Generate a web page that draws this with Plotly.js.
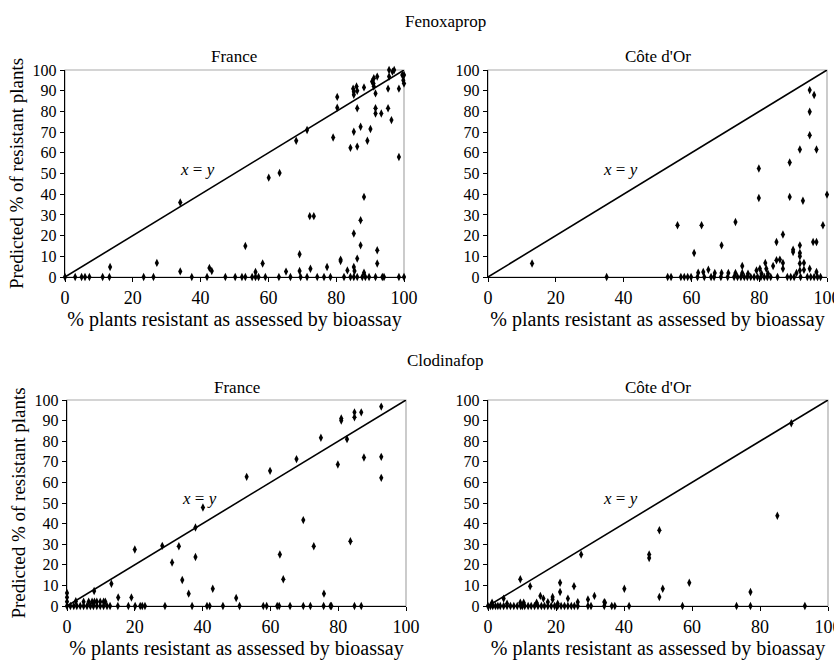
<!DOCTYPE html>
<html>
<head>
<meta charset="utf-8">
<script src="https://cdn.plot.ly/plotly-3.0.1.min.js"></script>
<style>html,body{margin:0;padding:0;background:#fff;}#chart{width:834px;height:663px;}</style>
</head>
<body>
<div id="chart"></div>
<script>
// ---- Data ----
const diagLine = [0, 100];

// Fenoxaprop, France
const fenFrX = [0,3,4.9,5.9,7.2,11.1,13.1,23.2,26.1,37.4,41.9,47.3,50.2,52.2,53.2,55.2,56.2,57.1,59.1,63.1,66.5,69.5,71.4,74.4,76.4,78.3,82.3,84.2,85.2,86.2,87.7,88.6,89.7,91.6,93.6,94.1,98.5,100,
  13.3,27.1,34,34,42.6,43.3,53.2,56.2,58.3,60.1,63.3,65.2,68.2,69.2,69.2,71.4,72.2,73.4,72.4,77.3,79.1,80.3,80.3,81.3,81.3,83.3,84.2,85.2,85.2,85.2,85.4,85,85.2,85.2,86,86.2,86.2,86.2,86.2,87.2,87.2,87.2,88.2,88.2,88.2,89.2,90.1,90.6,91.1,91,91.6,91.6,91.6,92.1,92.1,92.1,91.1,93.3,95.6,96.6,95.6,95.3,95.3,96.3,98.5,98.5,99.5,99.8,100,97.1,100];
const fenFrY = [0,0,0,0,0,0,0,0,0,0,0,0,0,0,0,0,0,0,0,0,0,0,0,0,0,0,0,0,0,0,0,0,0,0,0,0,0,0,
  4.8,6.8,36,2.7,4.4,2.9,15,2.4,6.5,48,50.3,2.6,65.8,11,2.9,71,29.4,29.4,4,4.8,67.4,87,81.8,8.4,7.7,3.2,62.4,70.2,21,4.8,2.9,91,89.5,88,92,90,81.5,63,8.9,72.6,27.4,15.3,38.7,91.6,2.1,65.8,71.5,94.4,96,93.5,88.7,81.5,79,6.5,12.9,96.8,92,79,100,99.2,96.8,91,81.5,75.8,91,58,97.6,95,93.5,100,97.6];

// Fenoxaprop, Côte d'Or
const fenCoX = [35,53,54,56.9,57.9,58.9,59.9,61.8,63.8,65.8,66.7,68.7,70.7,72.6,73.6,74.6,75.6,76.5,77.5,78.5,79.5,80.5,81.5,82.4,83.4,85.4,88.3,89.3,90.3,92.2,94.2,95.2,96.2,97.2,98.1,
  13,55.9,60.8,62,63,63.5,65,66.9,68.9,68.9,70.9,73,73,75,75,76.7,79.2,79.9,79.9,80.2,80.7,81.8,82.1,82.6,84.1,85.1,85.1,86.1,87,87,87,89,89,90,90,91,92,92,92,92,92,92,92.9,93.2,93.2,94.9,94.9,94.9,94.9,96.2,95.9,96.9,96.9,96.9,98.8,100];
const fenCoY = [0,0,0,0,0,0,0,0,0,0,0,0,0,0,0,0,0,0,0,0,0,0,0,0,0,0,0,0,0,0,0,0,0,0,0,
  6.5,25,11.6,2.1,25,2.4,3.5,1.9,15.3,1.9,1.9,26.6,1.9,5.3,1.9,1.6,3.2,52.4,38.2,4,1.6,6.8,4,1.6,5.3,16.9,8.1,8.4,6.8,4,20.5,55.3,38.7,13.2,12.1,1.9,61.6,15.3,11.6,10,6.5,3.2,36.8,6.8,3.5,90.3,79.8,68.5,4,87.9,16.9,16.9,61.6,2.4,25,39.8];

// Clodinafop, France
const cloFrX = [0,1,2,2.9,3.9,4.9,5.9,6.9,7.8,8.8,9.8,10.8,11.8,12.7,15,18.1,20.1,21.6,22.2,23,28.9,36.9,41.3,42.1,46,50.9,57.9,58.9,62,62.6,65.8,69.7,71.8,75.7,77.7,78,84.8,86.8,
  0,0,0,2.6,4.9,6.4,7.4,8.1,8.8,9.8,10.8,11.3,8,13.1,15.1,19,20,28.1,31,33,34,35.9,37.9,37.9,40.1,43,49.9,53,59.9,62.8,63.8,67.7,69.7,72.8,74.9,75.8,79.9,80.9,80.9,82.6,83.6,84.8,84.8,86.8,87.6,92.7,92.7,92.7];
const cloFrY = [0,0,0,0,0,0,0,0,0,0,0,0,0,0,0,0,0,0,0,0,0,0,0,0,0,0,0,0,0,0,0,0,0,0,0,0,0,0,
  6.3,4.2,2.1,2.3,2.1,2.1,2.1,2.1,2.1,2.1,2.1,2.1,7.3,10.8,4.1,4.1,27.4,29.2,21.1,29,12.6,6,38.1,23.8,47.8,8.4,3.9,62.7,65.6,25,13,71.3,41.7,29,81.7,6,68.7,91,90,81,31.4,94,91.6,94,72.1,96.8,72.4,62.2];

// Clodinafop, Côte d'Or
const cloCoX = [0,0.7,1.4,2.2,2.9,3.6,4.6,5.6,6.6,7.6,8.6,9.6,10.1,10.8,11.8,12.7,13.7,14.7,15.7,16.6,17.6,18.6,19.6,20.5,21.5,22.5,23.5,24.5,25.4,26.4,29.4,30.3,34.2,36.4,37.3,41.5,57.2,73.1,77.2,93.2,
  1.2,5.6,9.5,10.5,14.3,17.6,20.5,26.4,34.2,
  89.2,85.1,50.4,47.4,47.4,27.4,9.5,12.4,21.2,21.2,25.3,23.5,29.4,31.3,15.4,16.3,19,19,40.1,50.4,51.4,59.2,77.2,4.6,34.4];
const cloCoY = [0,0,0,0,0,0,0,0,0,0,0,0,0,0,0,0,0,0,0,0,0,0,0,0,0,0,0,0,0,0,0,0,0,0,0,0,0,0,0,0,
  1.6,1.1,1.6,1.6,1.6,1.9,1.1,1.9,1.9,
  88.7,43.8,36.8,25,23.3,25,13,9.6,11.3,6.8,9.6,3.6,3.2,4.9,4.9,3.6,4.4,3.2,8.4,4.4,8.4,11.3,6.8,3.6,1.6];

// ---- Chart ----
const FONT = '"Liberation Serif", "Times New Roman", Times, serif';
const panels = [
  {x: fenFrX, y: fenFrY, xd: [65/834, 404/834], yd: [386/663, 593/663]},
  {x: fenCoX, y: fenCoY, xd: [488/834, 827/834], yd: [386/663, 593/663]},
  {x: cloFrX, y: cloFrY, xd: [67/834, 406/834], yd: [57/663, 263/663]},
  {x: cloCoX, y: cloCoY, xd: [488/834, 828/834], yd: [57/663, 263/663]}
];

const traces = [];
const layout = {
  width: 834, height: 663,
  margin: {l: 0, r: 0, t: 0, b: 0},
  paper_bgcolor: '#fff', plot_bgcolor: '#fff',
  showlegend: false,
  font: {family: FONT, size: 15, color: '#000'},
  shapes: [], annotations: []
};

panels.forEach((p, i) => {
  const n = i + 1;
  const xa = n === 1 ? 'x' : 'x' + n;
  const ya = n === 1 ? 'y' : 'y' + n;
  const xk = n === 1 ? 'xaxis' : 'xaxis' + n;
  const yk = n === 1 ? 'yaxis' : 'yaxis' + n;
  traces.push({x: diagLine, y: diagLine, xaxis: xa, yaxis: ya, mode: 'lines',
    line: {color: '#000', width: 1.6}, hoverinfo: 'skip'});
  traces.push({x: p.x, y: p.y, xaxis: xa, yaxis: ya, mode: 'markers', cliponaxis: false,
    marker: {symbol: 'diamond-tall', size: 6, color: '#000'}});
  layout[xk] = {domain: p.xd, anchor: ya, range: [0, 100], dtick: 20, tick0: 0,
    ticks: 'outside', ticklen: 4, tickcolor: '#000', showline: true, linecolor: '#000', linewidth: 1.2,
    ticklabeloverflow: 'allow',
    showgrid: false, zeroline: false, tickfont: {family: FONT, size: 18, color: '#000'},
    title: {text: '% plants resistant as assessed by bioassay', font: {family: FONT, size: 20, color: '#000'}, standoff: 2}};
  layout[yk] = {domain: p.yd, anchor: xa, range: [0, 100], dtick: 10, tick0: 0,
    ticks: 'outside', ticklen: 4, tickcolor: '#000', showline: true, linecolor: '#000', linewidth: 1.2,
    showgrid: false, zeroline: false, tickfont: {family: FONT, size: 16, color: '#000'}};
  if (n === 1 || n === 3) {
    layout[yk].title = {text: 'Predicted % of resistant plants', font: {family: FONT, size: 19, color: '#000'}, standoff: 4};
  }
  layout.shapes.push({type: 'rect', xref: xa + ' domain', yref: ya + ' domain', x0: 0, x1: 1, y0: 0, y1: 1,
    line: {color: '#aaaaaa', width: 1.2}, layer: 'below'});
  layout.annotations.push({xref: xa, yref: ya, x: 39, y: 52, text: '<i>x</i> = <i>y</i>', showarrow: false,
    xanchor: 'center', yanchor: 'middle', font: {family: FONT, size: 17, color: '#000'}});
  layout.annotations.push({xref: 'paper', yref: 'paper', x: (p.xd[0] + p.xd[1]) / 2, y: p.yd[1] + 13/663,
    text: (n % 2 === 1) ? 'France' : "Côte d'Or", showarrow: false, xanchor: 'center', yanchor: 'middle',
    font: {family: FONT, size: 17, color: '#000'}});
});

layout.annotations.push({xref: 'paper', yref: 'paper', x: 445/834, y: 1 - 22/663, text: 'Fenoxaprop',
  showarrow: false, xanchor: 'center', yanchor: 'middle', font: {family: FONT, size: 17, color: '#000'}});
layout.annotations.push({xref: 'paper', yref: 'paper', x: 445/834, y: 1 - 361/663, text: 'Clodinafop',
  showarrow: false, xanchor: 'center', yanchor: 'middle', font: {family: FONT, size: 17, color: '#000'}});

Plotly.newPlot('chart', traces, layout, {staticPlot: true});
</script>
</body>
</html>
